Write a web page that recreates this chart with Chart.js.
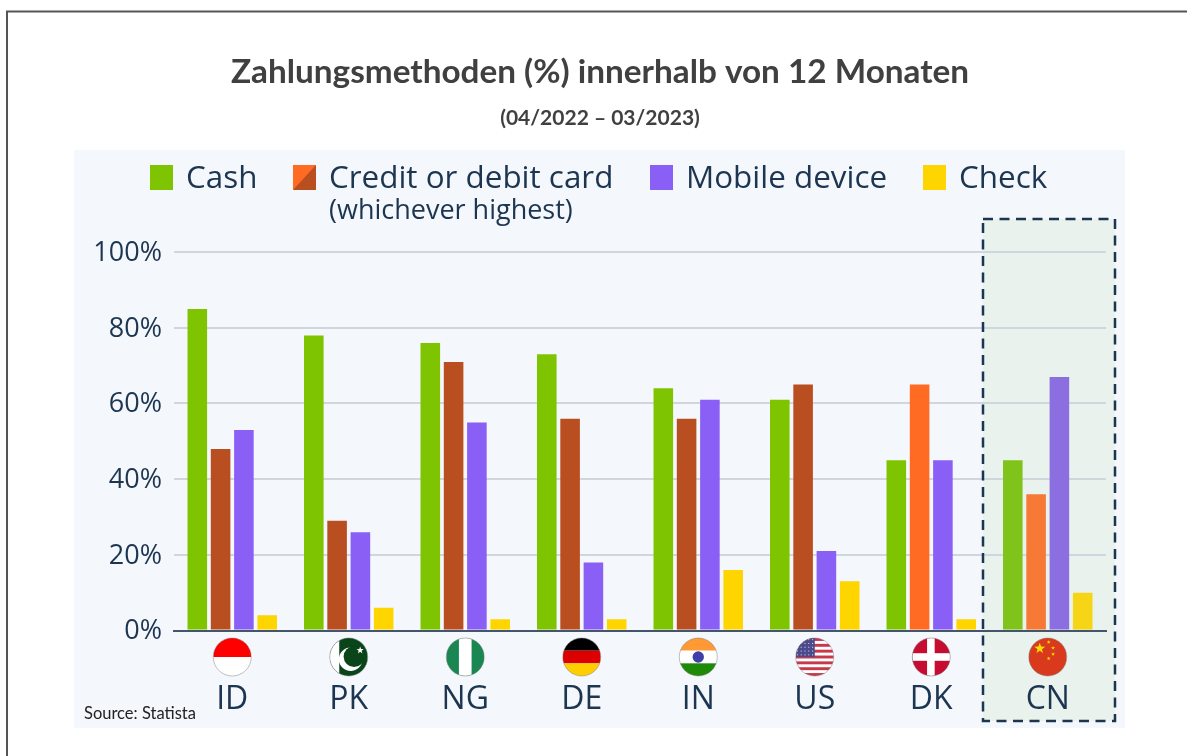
<!DOCTYPE html>
<html>
<head>
<meta charset="utf-8">
<title>Zahlungsmethoden</title>
<script src="https://cdn.jsdelivr.net/npm/chart.js@4"></script>
<style>
    html, body { margin: 0; padding: 0; background: #fff; }
    canvas { display: block; }
</style>
</head>
<body>
<canvas id="chart" width="1187" height="756"></canvas>
<script>
// Data
const countries = ['ID', 'PK', 'NG', 'DE', 'IN', 'US', 'DK', 'CN'];
const cash = [85, 78, 76, 73, 64, 61, 45, 45];
const card = [48, 29, 71, 56, 56, 65, 65, 36];
const mobile = [53, 26, 55, 18, 61, 21, 45, 67];
const check = [4, 6, 3, 3, 16, 13, 3, 10];
const yTicks = [0, 20, 40, 60, 80, 100];

const NAVY = '#1c3550';
const cashColors = ['#7fc400', '#7fc400', '#7fc400', '#7fc400', '#7fc400', '#7fc400', '#7fc400', '#80c31a'];
const cardColors = ['#b94e21', '#b94e21', '#b94e21', '#b94e21', '#b94e21', '#b94e21', '#ff6b22', '#f67a35'];
const mobileColors = ['#8a5ff5', '#8a5ff5', '#8a5ff5', '#8a5ff5', '#8a5ff5', '#8a5ff5', '#8a5ff5', '#8b6ee0'];
const checkColors = ['#ffd500', '#ffd500', '#ffd500', '#ffd500', '#ffd500', '#ffd500', '#ffd500', '#f5d515'];

// Small flag painters, drawn around 0,0 inside a clipped circle of radius r
const flags = {
    ID(c, r) {
        c.fillStyle = '#fff'; c.fillRect(-r, -r, 2 * r, 2 * r);
        c.fillStyle = '#ff0000'; c.fillRect(-r, -r, 2 * r, r);
    },
    PK(c, r) {
        c.fillStyle = '#0a4419'; c.fillRect(-r, -r, 2 * r, 2 * r);
        c.fillStyle = '#fff'; c.fillRect(-r, -r, r * 0.5, 2 * r);
        c.beginPath(); c.arc(r * 0.1, r * 0.12, r * 0.62, 0, Math.PI * 2); c.fill();
        c.fillStyle = '#0a4419';
        c.beginPath(); c.arc(r * 0.28, -r * 0.02, r * 0.55, 0, Math.PI * 2); c.fill();
        c.fillStyle = '#fff';
        star(c, r * 0.6, -r * 0.35, r * 0.2);
    },
    NG(c, r) {
        c.fillStyle = '#1a8752'; c.fillRect(-r, -r, 2 * r, 2 * r);
        c.fillStyle = '#fff'; c.fillRect(-r / 3, -r, 2 * r / 3, 2 * r);
    },
    DE(c, r) {
        c.fillStyle = '#000'; c.fillRect(-r, -r, 2 * r, 2 * r / 3);
        c.fillStyle = '#dd0000'; c.fillRect(-r, -r / 3, 2 * r, 2 * r / 3);
        c.fillStyle = '#ffce00'; c.fillRect(-r, r / 3, 2 * r, 2 * r / 3);
    },
    IN(c, r) {
        c.fillStyle = '#ff9933'; c.fillRect(-r, -r, 2 * r, 2 * r / 3);
        c.fillStyle = '#fff'; c.fillRect(-r, -r / 3, 2 * r, 2 * r / 3);
        c.fillStyle = '#1f8a07'; c.fillRect(-r, r / 3, 2 * r, 2 * r / 3);
        c.fillStyle = '#3f3fa8';
        c.beginPath(); c.arc(0, 0, r * 0.3, 0, Math.PI * 2); c.fill();
    },
    US(c, r) {
        c.fillStyle = '#fff'; c.fillRect(-r, -r, 2 * r, 2 * r);
        c.fillStyle = '#c8374a';
        for (let i = 0; i < 7; i++) {
            c.fillRect(-r, -r + i * (2 * r / 6.5), 2 * r, r / 6.5);
        }
        c.fillStyle = '#4a4a8c'; c.fillRect(-r, -r, r, r);
        c.fillStyle = '#e4e4f0';
        for (let row = 0; row < 5; row++) {
            for (let col = 0; col < 5; col++) {
                c.fillRect(-r + (col + 0.3) * r / 5, -r + (row + 0.3) * r / 5, 1, 1);
            }
        }
    },
    DK(c, r) {
        c.fillStyle = '#c60c30'; c.fillRect(-r, -r, 2 * r, 2 * r);
        c.fillStyle = '#fff';
        c.fillRect(-r * 0.22, -r, r * 0.4, 2 * r);
        c.fillRect(-r, -r * 0.2, 2 * r, r * 0.4);
    },
    CN(c, r) {
        c.fillStyle = '#d93a1e'; c.fillRect(-r, -r, 2 * r, 2 * r);
        c.fillStyle = '#ffde00';
        star(c, -r * 0.42, -r * 0.45, r * 0.3);
        star(c, r * 0.05, -r * 0.78, r * 0.11);
        star(c, r * 0.28, -r * 0.48, r * 0.11);
        star(c, r * 0.28, -r * 0.15, r * 0.11);
        star(c, r * 0.05, r * 0.08, r * 0.11);
    }
};

function star(c, x, y, size) {
    c.beginPath();
    for (let i = 0; i < 10; i++) {
        const a = -Math.PI / 2 + i * Math.PI / 5;
        const rad = i % 2 ? size * 0.4 : size;
        c.lineTo(x + Math.cos(a) * rad, y + Math.sin(a) * rad);
    }
    c.closePath();
    c.fill();
}

// Panel, highlight box, sheet edge
const backdrop = {
    id: 'backdrop',
    beforeDraw(chart) {
        const c = chart.ctx;
        c.save();
        c.fillStyle = '#fff';
        c.fillRect(0, 0, chart.width, chart.height);
        c.strokeStyle = '#555';
        c.lineWidth = 2;
        c.beginPath();
        c.moveTo(7, chart.height);
        c.lineTo(7, 11.5);
        c.lineTo(chart.width, 11.5);
        c.stroke();
        c.fillStyle = '#f4f7fb';
        c.fillRect(74, 150, 1051, 578);
        c.fillStyle = '#e9f2ec';
        c.fillRect(983, 219, 132, 502);
        c.restore();
    },
    afterDraw(chart) {
        const c = chart.ctx;
        c.save();
        c.strokeStyle = NAVY;
        c.lineWidth = 2.5;
        c.setLineDash([10, 6.5]);
        c.strokeRect(983, 219, 132, 502);
        c.restore();
    }
};

// Flags under the axis, placed from the category scale
const flagRow = {
    id: 'flagRow',
    afterDraw(chart) {
        const c = chart.ctx;
        const x = chart.scales.x;
        const r = 19;
        countries.forEach((code, i) => {
            c.save();
            c.translate(x.getPixelForValue(i), 657);
            c.beginPath();
            c.arc(0, 0, r, 0, Math.PI * 2);
            c.save();
            c.clip();
            flags[code](c, r);
            c.restore();
            c.beginPath();
            c.arc(0, 0, r, 0, Math.PI * 2);
            c.strokeStyle = 'rgba(120,120,120,0.45)';
            c.lineWidth = 1;
            c.stroke();
            c.restore();
        });
    }
};

// Legend laid out by hand, one long entry has a second line
const legendRow = {
    id: 'legendRow',
    afterDraw(chart) {
        const c = chart.ctx;
        const entries = [
            { set: 0, box: 150, text: 186 },
            { set: 1, box: 293, text: 329 },
            { set: 2, box: 650, text: 686 },
            { set: 3, box: 923, text: 959 }
        ];
        c.save();
        c.textBaseline = 'alphabetic';
        c.textAlign = 'left';
        entries.forEach(e => {
            const colors = chart.data.datasets[e.set].backgroundColor;
            c.fillStyle = colors[0];
            c.fillRect(e.box, 165, 23, 25);
            if (e.set === 1) {
                c.fillStyle = colors[6];
                c.beginPath();
                c.moveTo(e.box, 165);
                c.lineTo(e.box + 23, 165);
                c.lineTo(e.box, 190);
                c.closePath();
                c.fill();
            }
            c.fillStyle = NAVY;
            c.font = '31.4px "Open Sans"';
            c.fillText(chart.data.datasets[e.set].label, e.text, 188);
        });
        c.font = '27px "Open Sans"';
        c.fillText('(whichever highest)', 329, 219);
        c.font = '16.5px Lato';
        c.fillStyle = '#222';
        c.fillText('Source: Statista', 84, 719);
        c.restore();
    }
};

new Chart(document.getElementById('chart'), {
    type: 'bar',
    data: {
        labels: countries,
        datasets: [
            { label: 'Cash', data: cash, backgroundColor: cashColors },
            { label: 'Credit or debit card', data: card, backgroundColor: cardColors },
            { label: 'Mobile device', data: mobile, backgroundColor: mobileColors },
            { label: 'Check', data: check, backgroundColor: checkColors }
        ]
    },
    plugins: [backdrop, flagRow, legendRow],
    options: {
        responsive: false,
        animation: false,
        layout: { padding: { left: 94, right: 81, top: 0, bottom: 0 } },
        datasets: { bar: { categoryPercentage: 0.8, barPercentage: 0.84 } },
        plugins: {
            legend: { display: false },
            tooltip: { enabled: false },
            title: {
                display: true,
                text: 'Zahlungsmethoden (%) innerhalb von 12 Monaten',
                color: '#404040',
                font: { family: 'Lato', size: 33.3, weight: 'bold' },
                padding: { top: 52.5, bottom: 13.5 }
            },
            subtitle: {
                display: true,
                text: '(04/2022 – 03/2023)',
                color: '#404040',
                font: { family: 'Lato', size: 21, weight: 'bold' },
                padding: { top: 0, bottom: 121 }
            }
        },
        scales: {
            x: {
                grid: { display: false },
                border: { display: true, color: '#44566b', width: 2 },
                ticks: {
                    color: NAVY,
                    padding: 42,
                    maxRotation: 0,
                    font: { family: 'Open Sans', size: 32 }
                },
                afterFit(scale) { scale.height = 125.5; }
            },
            y: {
                min: 0,
                max: 100,
                afterBuildTicks(scale) { scale.ticks = yTicks.map(value => ({ value })); },
                grid: { color: '#d0d6de', lineWidth: 2, drawTicks: false },
                border: { display: false },
                ticks: {
                    color: NAVY,
                    padding: 12,
                    labelOffset: 1,
                    font: { family: 'Open Sans', size: 27 },
                    callback: value => value + '%'
                },
                afterFit(scale) { scale.width = 80; }
            }
        }
    }
});
</script>
</body>
</html>
